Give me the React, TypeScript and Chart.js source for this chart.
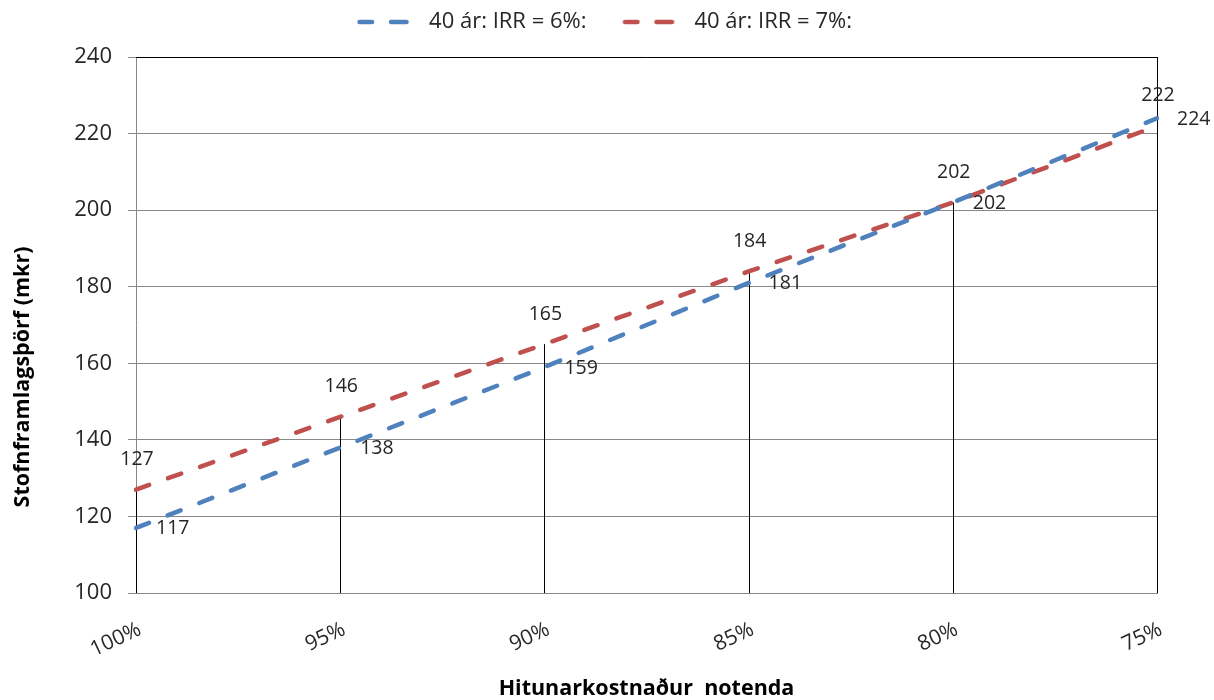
import React, { useEffect, useRef } from 'react';
import { Chart, registerables } from 'chart.js';

Chart.register(...registerables);

const categories = ['100%', '95%', '90%', '85%', '80%', '75%'];
const irr6Values = [117, 138, 159, 181, 202, 224];
const irr7Values = [127, 146, 165, 184, 202, 222];
const seriesNames = ['40 ár: IRR = 6%:', '40 ár: IRR = 7%:'];
const yMin = 100;
const yMax = 240;
const yStep = 20;
const xTitle = 'Hitunarkostnaður  notenda';
const yTitle = 'Stofnframlagsþörf (mkr)';

const FONT = '"Open Sans", Lato, sans-serif';
const BLUE = '#4F81BD';
const RED = '#C0504D';
const TEXT = '#262626';

function makeLegendSymbol(color: string): HTMLCanvasElement {
  const c = document.createElement('canvas');
  c.width = 77;
  c.height = 10;
  const g = c.getContext('2d');
  if (g) {
    g.strokeStyle = color;
    g.lineWidth = 4.5;
    g.lineCap = 'round';
    g.beginPath();
    g.moveTo(18.5, 5);
    g.lineTo(31, 5);
    g.moveTo(50, 5);
    g.lineTo(65.5, 5);
    g.stroke();
  }
  return c;
}

const overlayPlugin = {
  id: 'overlay',
  afterLayout(chart: any) {
    const lg = chart.legend;
    if (lg) {
      const dx = 18;
      const dy = -14;
      lg.left += dx;
      lg.right += dx;
      lg.top += dy;
      lg.bottom += dy;
    }
  },
  beforeDatasetsDraw(chart: any) {
    const { ctx, chartArea, scales } = chart;
    const xs = scales.x;
    const ys = scales.y;
    ctx.save();
    ctx.strokeStyle = '#000';
    ctx.lineWidth = 1;
    ctx.setLineDash([]);
    categories.forEach((_, i) => {
      const px = Math.round(xs.getPixelForValue(i)) + 0.5;
      const top = ys.getPixelForValue(Math.max(irr6Values[i], irr7Values[i]));
      ctx.beginPath();
      ctx.moveTo(px, chartArea.bottom);
      ctx.lineTo(px, top);
      ctx.stroke();
    });
    ctx.beginPath();
    ctx.moveTo(chartArea.left, Math.round(chartArea.top) + 0.5);
    ctx.lineTo(chartArea.right, Math.round(chartArea.top) + 0.5);
    ctx.moveTo(Math.round(chartArea.right) + 0.5, chartArea.top);
    ctx.lineTo(Math.round(chartArea.right) + 0.5, chartArea.bottom);
    ctx.stroke();
    ctx.restore();
  },
  afterDatasetsDraw(chart: any) {
    const { ctx, scales } = chart;
    const xs = scales.x;
    const ys = scales.y;
    ctx.save();
    ctx.font = `19.5px ${FONT}`;
    ctx.fillStyle = TEXT;
    ctx.textBaseline = 'middle';
    categories.forEach((_, i) => {
      const px = xs.getPixelForValue(i);
      ctx.textAlign = 'center';
      ctx.fillText(String(irr7Values[i]), px + 1, ys.getPixelForValue(irr7Values[i]) - 30);
      ctx.textAlign = 'left';
      ctx.fillText(String(irr6Values[i]), px + 20, ys.getPixelForValue(irr6Values[i]) + 1);
    });
    // y axis title
    ctx.save();
    ctx.translate(23, 377);
    ctx.rotate(-Math.PI / 2);
    ctx.font = `bold 21.5px ${FONT}`;
    ctx.textAlign = 'center';
    ctx.textBaseline = 'middle';
    ctx.fillStyle = '#000';
    ctx.fillText(yTitle, 0, 0);
    ctx.restore();
    ctx.restore();
  },
};

export default function App() {
  const canvasRef = useRef<HTMLCanvasElement | null>(null);

  useEffect(() => {
    document.body.style.margin = '0';
    const canvas = canvasRef.current;
    if (!canvas) return;
    const blueSymbol = makeLegendSymbol(BLUE);
    const redSymbol = makeLegendSymbol(RED);
    const chart = new Chart(canvas, {
      type: 'line',
      data: {
        labels: categories,
        datasets: [
          {
            label: seriesNames[0],
            data: irr6Values,
            borderColor: BLUE,
            backgroundColor: BLUE,
            borderWidth: 4.5,
            borderDash: [14, 20],
            borderCapStyle: 'round',
            pointRadius: 0,
            pointStyle: blueSymbol,
            tension: 0,
            fill: false,
          },
          {
            label: seriesNames[1],
            data: irr7Values,
            borderColor: RED,
            backgroundColor: RED,
            borderWidth: 4.5,
            borderDash: [14, 20],
            borderCapStyle: 'round',
            pointRadius: 0,
            pointStyle: redSymbol,
            tension: 0,
            fill: false,
          },
        ],
      },
      options: {
        responsive: false,
        animation: false,
        devicePixelRatio: 1,
        layout: { padding: { left: 0, right: 57, top: 5, bottom: 0 } },
        plugins: {
          legend: {
            position: 'top',
            labels: {
              usePointStyle: true,
              pointStyleWidth: 77,
              boxWidth: 77,
              boxHeight: 10,
              padding: 20,
              color: TEXT,
              font: { family: FONT, size: 22 },
            },
          },
          tooltip: { enabled: false },
        },
        scales: {
          x: {
            type: 'category',
            offset: false,
            afterFit: (scale: any) => {
              scale.height = 107;
            },
            grid: { display: false, drawTicks: false },
            border: { display: true, color: '#888', width: 1 },
            ticks: {
              color: TEXT,
              font: { family: FONT, size: 21 },
              minRotation: 25,
              maxRotation: 25,
              padding: 24,
              labelOffset: 4,
              autoSkip: false,
            },
            title: {
              display: true,
              text: xTitle,
              color: '#000',
              font: { family: FONT, size: 21.5, weight: 'bold' },
              padding: { top: 0, bottom: -2 },
            },
          },
          y: {
            min: yMin,
            max: yMax,
            afterFit: (scale: any) => {
              scale.width = 136;
            },
            grid: { color: '#888', tickLength: 8, lineWidth: 1 },
            border: { display: true, color: '#888', width: 1 },
            ticks: {
              stepSize: yStep,
              color: TEXT,
              padding: 16,
              font: { family: FONT, size: 22 },
            },
          },
        },
      },
      plugins: [overlayPlugin],
    });
    return () => chart.destroy();
  }, []);

  return (
    <div style={{ width: 1214, height: 700 }}>
      <canvas ref={canvasRef} width={1214} height={700} />
    </div>
  );
}
